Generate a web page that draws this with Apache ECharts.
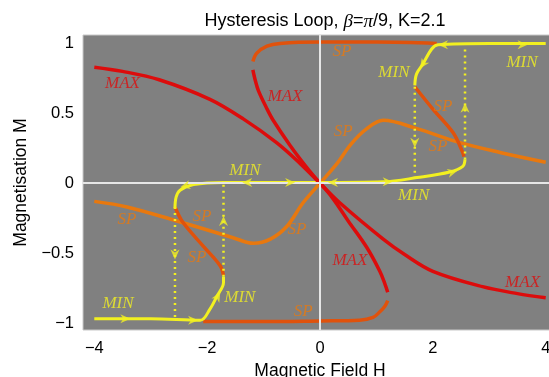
<!DOCTYPE html>
<html>
<head>
<meta charset="utf-8">
<script src="https://cdn.jsdelivr.net/npm/echarts@6/dist/echarts.min.js"></script>
<style>
  html, body { margin: 0; padding: 0; background: #fff; }
  #picture1 { width: 549px; height: 377px; }
</style>
</head>
<body>
<div id="picture1"></div>
<script>
// curves, [H, M]
var maxLong = [[-4.0,0.83],[-3.5,0.80],[-2.85,0.74],[-1.95,0.60],[-1.36,0.46],[-0.77,0.29],[-0.35,0.14],[0,0],
               [0.35,-0.14],[1.12,-0.40],[1.5,-0.51],[2.0,-0.63],[2.88,-0.74],[3.5,-0.79],[4.0,-0.82]];
var maxShortUp = [[-1.19,0.81],[-1.15,0.74],[-1.09,0.66],[-0.95,0.54],[-0.83,0.45],[-0.53,0.27],[-0.23,0.11],[0,0]];
var maxShortDown = [[0,0],[0.23,-0.11],[0.5,-0.27],[0.83,-0.46],[1.06,-0.63],[1.15,-0.72],[1.2,-0.78]];

var spTop = [[-1.19,0.87],[-1.12,0.93],[-0.94,0.98],[-0.71,1.0],[0,1.01],[1.0,1.01],[2.07,1.0]];
var spBottom = [[-2.07,-0.99],[-1.0,-0.99],[0,-0.985],[0.7,-0.98],[0.94,-0.96],[1.06,-0.92],[1.15,-0.88],[1.2,-0.84]];
var spMid = [[-4.0,-0.13],[-3.42,-0.17],[-2.54,-0.27],[-1.95,-0.34],[-1.54,-0.39],[-1.18,-0.43],[-0.88,-0.40],[-0.59,-0.31],
             [-0.3,-0.14],[0,0],[0.3,0.14],[0.55,0.28],[0.83,0.39],[1.12,0.45],[1.72,0.39],[2.48,0.29],[3.19,0.22],[4.0,0.15]];
var spCrossLeft = [[-2.57,-0.17],[-2.43,-0.28],[-2.07,-0.45],[-1.77,-0.59],[-1.71,-0.66]];
var spCrossRight = [[1.68,0.69],[2.0,0.53],[2.36,0.36],[2.53,0.22],[2.55,0.19]];

var minTop = [[4.0,1.0],[3.0,1.0],[2.09,0.99],[1.98,0.96],[1.82,0.85],[1.71,0.78],[1.68,0.70]];
var minMid = [[-2.57,-0.18],[-2.55,-0.10],[-2.48,-0.05],[-2.24,-0.01],[-1.71,0.005],[0,0.005],[1.12,0.01],[1.72,0.04],
              [2.3,0.08],[2.53,0.12],[2.57,0.17]];
var minBottom = [[-4.0,-0.97],[-3.0,-0.97],[-2.12,-0.98],[-1.95,-0.9],[-1.83,-0.81],[-1.71,-0.71],[-1.71,-0.67]];

var jumps = [
    [[1.68,0.69],[1.68,0.04]],
    [[2.57,0.17],[2.57,0.97]],
    [[-2.57,-0.17],[-2.57,-0.96]],
    [[-1.71,-0.67],[-1.71,0.0]]
];

// arrow heads on the MIN path: H, M, direction in degrees
var arrows = [[2.18,0.99,180],[3.59,0.99,0],[1.82,0.85,-125],[1.68,0.29,-90],[2.57,0.54,90],
              [0.23,0.005,180],[1.2,0.01,0],[2.35,0.08,15],[-1.29,0.005,180],[-0.53,0.005,0],
              [-2.39,-0.02,195],[-2.57,-0.51,-90],[-1.71,-0.27,90],[-3.45,-0.97,0],[-2.25,-0.98,0],[-1.81,-0.81,60]];

var maxLabels = [[-3.5,0.71],[-0.62,0.62],[0.53,-0.55],[3.59,-0.71]];
var spLabels = [[0.39,0.94],[0.41,0.37],[2.18,0.55],[2.09,0.26],[-3.42,-0.26],[-2.09,-0.24],[-2.18,-0.53],[-0.41,-0.33],[-0.30,-0.92]];
var minLabels = [[1.31,0.79],[3.58,0.86],[-1.33,0.09],[1.66,-0.09],[-3.58,-0.86],[-1.42,-0.82]];

var xTicks = [-4, -2, 0, 2, 4];
var yTicks = [-1, -0.5, 0, 0.5, 1];

var RED = '#dc0c0c', DARKOR = '#e0520c', ORANGE = '#e8780e', YELLOW = '#f2f020';

function curve(data, color, width) {
    return {
        type: 'line', data: data, smooth: 0.35, symbol: 'none',
        lineStyle: { color: color, width: width }, silent: true, z: 3
    };
}

function labels(data, text, color) {
    return {
        type: 'scatter', data: data, symbolSize: 0, silent: true, z: 6,
        label: {
            show: true, position: 'inside', formatter: text, color: color,
            fontFamily: 'Liberation Serif', fontStyle: 'italic', fontSize: 17
        }
    };
}

function tickText(list) {
    return function (v) {
        for (var i = 0; i < list.length; i++) {
            if (Math.abs(v - list[i]) < 1e-6) {
                return String(list[i]).replace('-', '\u2212');
            }
        }
        return '';
    };
}

var series = [
    {
        type: 'line', data: [], z: 1, silent: true,
        markLine: {
            silent: true, symbol: 'none', label: { show: false },
            lineStyle: { color: '#e6e6e6', width: 2, type: 'solid' },
            data: [{ xAxis: 0 }, { yAxis: 0 }]
        }
    },
    curve(spMid, ORANGE, 3.5),
    curve(spTop, DARKOR, 3.5),
    curve(spBottom, DARKOR, 3.5),
    curve(spCrossLeft, DARKOR, 3.5),
    curve(spCrossRight, DARKOR, 3.5)
];
jumps.forEach(function (seg) {
    series.push({
        type: 'line', data: seg, symbol: 'none', silent: true, z: 3,
        lineStyle: { color: YELLOW, width: 2.5, type: [2, 4] }
    });
});
series.push(curve(minTop, YELLOW, 3));
series.push(curve(minMid, YELLOW, 3));
series.push(curve(minBottom, YELLOW, 3));
series.push(curve(maxLong, RED, 3.5));
series.push(curve(maxShortUp, RED, 3.5));
series.push(curve(maxShortDown, RED, 3.5));
series.push({
    type: 'scatter', silent: true, z: 5,
    data: arrows.map(function (a) { return { value: [a[0], a[1]], symbolRotate: a[2] }; }),
    symbol: 'path://M0,0 L10,5 L0,10 L3,5 Z', symbolSize: [10, 9],
    itemStyle: { color: YELLOW }
});
series.push(labels(maxLabels, 'MAX', RED));
series.push(labels(spLabels, 'SP', ORANGE));
series.push(labels(minLabels, 'MIN', YELLOW));

var myChart1 = echarts.init(document.getElementById('picture1'));
myChart1.setOption({
    animation: false,
    backgroundColor: '#ffffff',
    title: {
        text: 'Hysteresis Loop, {i|\u03b2}={i|\u03c0}/9, K=2.1',
        left: 320, top: 7, textAlign: 'center',
        textStyle: {
            fontFamily: 'Liberation Sans', fontSize: 18, fontWeight: 'normal', color: '#000',
            rich: { i: { fontFamily: 'Liberation Serif', fontStyle: 'italic', fontSize: 19, color: '#000' } }
        }
    },
    grid: {
        left: 83, width: 474, top: 35, height: 295,
        outerBoundsMode: 'none', containLabel: false,
        show: true, backgroundColor: '#808080', borderColor: '#c8c8c8', borderWidth: 1
    },
    xAxis: {
        type: 'value', min: -4.2, max: 4.2, interval: 0.2,
        name: 'Magnetic Field H', nameLocation: 'middle', nameGap: 30,
        nameTextStyle: { fontFamily: 'Liberation Sans', fontSize: 17.5, color: '#000' },
        axisLine: { show: false }, axisTick: { show: false }, splitLine: { show: false },
        axisLabel: { formatter: tickText(xTicks), fontFamily: 'Liberation Sans', fontSize: 16.5, color: '#000', margin: 10 }
    },
    yAxis: {
        type: 'value', min: -1.05, max: 1.06, interval: 0.05,
        name: 'Magnetisation M', nameLocation: 'middle', nameGap: 52,
        nameTextStyle: { fontFamily: 'Liberation Sans', fontSize: 17.5, color: '#000' },
        axisLine: { show: false }, axisTick: { show: false }, splitLine: { show: false },
        axisLabel: { formatter: tickText(yTicks), fontFamily: 'Liberation Sans', fontSize: 16.5, color: '#000', margin: 9 }
    },
    series: series
});
</script>
</body>
</html>
